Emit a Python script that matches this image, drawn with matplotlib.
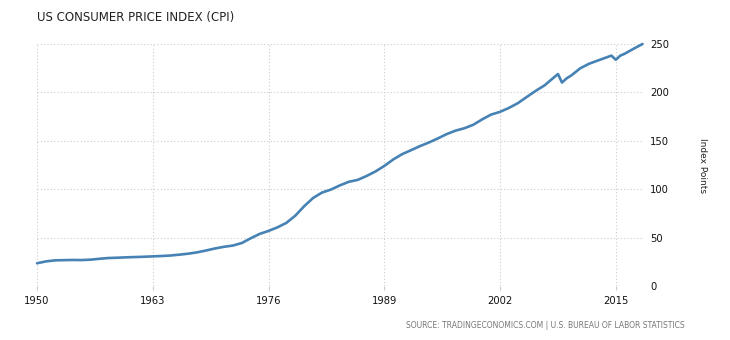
import matplotlib
matplotlib.use("Agg")
import matplotlib.pyplot as plt

# CPI values (index points)
years = [1950, 1951, 1952, 1953, 1954, 1955, 1956, 1957, 1958, 1959,
         1960, 1961, 1962, 1963, 1964, 1965, 1966, 1967, 1968, 1969,
         1970, 1971, 1972, 1973, 1974, 1975, 1976, 1977, 1978, 1979,
         1980, 1981, 1982, 1983, 1984, 1985, 1986, 1987, 1988, 1989,
         1990, 1991, 1992, 1993, 1994, 1995, 1996, 1997, 1998, 1999,
         2000, 2001, 2002, 2003, 2004, 2005, 2006, 2007, 2008.5, 2008.95,
         2009.5, 2010, 2011, 2012, 2013, 2014.5, 2015.0, 2015.5, 2016, 2017,
         2018.0]
cpi = [23.5, 25.4, 26.5, 26.7, 26.9, 26.8, 27.2, 28.1, 28.9, 29.2,
       29.6, 29.9, 30.2, 30.6, 31.0, 31.5, 32.4, 33.4, 34.8, 36.7,
       38.8, 40.5, 41.8, 44.4, 49.3, 53.8, 56.9, 60.6, 65.2, 72.6,
       82.4, 90.9, 96.5, 99.6, 103.9, 107.6, 109.6, 113.6, 118.3, 124.0,
       130.7, 136.2, 140.3, 144.5, 148.2, 152.4, 156.9, 160.5, 163.0, 166.6,
       172.2, 177.1, 179.9, 184.0, 188.9, 195.3, 201.6, 207.3, 219.0, 210.2,
       214.7, 217.5, 224.9, 229.6, 233.0, 238.0, 233.7, 238.0, 240.0, 245.1,
       250.0]

x_ticks = [1950, 1963, 1976, 1989, 2002, 2015]
y_ticks = [0, 50, 100, 150, 200, 250]

fig = plt.figure(figsize=(7.3, 3.4), dpi=100)
ax = fig.add_axes([37 / 730, 1 - 286 / 340, (643 - 37) / 730, (286 - 44) / 340])

ax.plot(years, cpi, color="#4682b4", linewidth=1.9, solid_capstyle="round", clip_on=False)

ax.set_xlim(1950, 2018.05)
ax.set_ylim(0, 250)
ax.set_xticks(x_ticks)
ax.set_yticks(y_ticks)
ax.grid(True, color="#cccccc", linestyle=(0, (1, 2)), linewidth=0.8)
ax.set_axisbelow(True)
for s in ax.spines.values():
    s.set_visible(False)

ax.yaxis.tick_right()
ax.tick_params(axis="y", length=0, pad=5, labelsize=8, labelcolor="#111111")
ax.tick_params(axis="x", length=3, color="#cccccc", pad=4, labelsize=8, labelcolor="#111111")
for lbl in ax.get_xticklabels() + ax.get_yticklabels():
    lbl.set_family("DejaVu Sans")
    lbl.set_fontstretch("condensed")

fig.text(0.963, 1 - 165 / 340, "Index Points", rotation=270, ha="center", va="center",
         fontsize=6.5, color="#222222")
fig.text(37 / 730, 1 - 17 / 340, "US CONSUMER PRICE INDEX (CPI)", ha="left", va="center",
         fontsize=8.5, color="#222222")
fig.text(685 / 730, 1 - 326 / 340,
         "SOURCE: TRADINGECONOMICS.COM | U.S. BUREAU OF LABOR STATISTICS",
         ha="right", va="center", fontsize=5.5, color="#777777")

fig.savefig("out.png", dpi=100)
